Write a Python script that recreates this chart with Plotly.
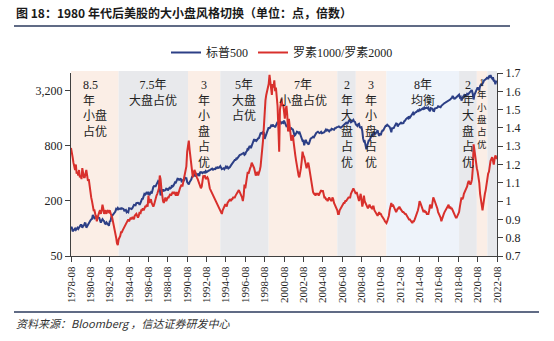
import math
import pandas as pd
import plotly.graph_objects as go

# ---------------------------------------------------------------- data
months = pd.date_range("1978-08-01", "2022-08-01", freq="MS")

# S&P 500, monthly close
spx = [
    103.3, 102.5, 93.2, 94.7, 96.1,
    99.9, 96.3, 101.6, 101.8, 99.1, 102.9, 103.8, 109.3, 109.3, 101.8, 106.2, 107.9,
    114.2, 113.7, 102.1, 106.3, 111.2, 114.2, 121.7, 122.4, 125.5, 127.5, 140.5, 135.8,
    129.6, 131.3, 136.0, 132.8, 132.6, 131.2, 130.9, 122.8, 116.2, 121.9, 126.4, 122.6,
    120.4, 113.1, 112.0, 116.4, 111.9, 109.6, 107.1, 119.5, 120.4, 133.7, 138.5, 140.6,
    145.3, 148.1, 153.0, 164.4, 162.4, 168.1, 162.6, 164.4, 166.1, 163.6, 166.4, 164.9,
    163.4, 157.1, 159.2, 160.1, 150.6, 153.2, 150.7, 166.7, 166.1, 166.1, 163.6, 167.2,
    179.6, 181.2, 180.7, 179.8, 189.6, 191.9, 190.9, 188.6, 182.1, 189.8, 202.2, 211.3,
    211.8, 226.9, 238.9, 235.5, 247.4, 250.8, 236.1, 252.9, 231.3, 244.0, 249.2, 242.2,
    274.1, 284.2, 291.7, 288.4, 290.1, 304.0, 318.7, 329.8, 321.8, 251.8, 230.3, 247.1,
    257.1, 267.8, 258.9, 261.3, 262.2, 273.5, 272.0, 261.5, 271.9, 279.0, 273.7, 277.7,
    297.5, 288.9, 294.9, 309.6, 320.5, 318.0, 346.1, 351.5, 349.2, 340.4, 346.0, 353.4,
    329.1, 331.9, 339.9, 330.8, 361.2, 358.0, 356.2, 322.6, 306.1, 304.0, 322.2, 330.2,
    343.9, 367.1, 375.2, 375.3, 389.8, 371.2, 387.8, 395.4, 387.9, 392.5, 375.2, 417.1,
    408.8, 412.7, 403.7, 415.0, 415.4, 408.1, 424.2, 414.0, 417.8, 418.7, 431.4, 435.7,
    438.8, 443.4, 451.7, 440.2, 450.2, 450.5, 448.1, 463.6, 458.9, 467.8, 461.8, 466.5,
    481.6, 467.1, 445.8, 450.9, 456.5, 444.3, 458.3, 475.5, 462.7, 472.4, 453.7, 459.3,
    470.4, 487.4, 500.7, 514.7, 533.4, 544.8, 562.1, 561.9, 584.4, 581.5, 605.4, 615.9,
    636.0, 640.4, 645.5, 654.2, 669.1, 670.6, 640.0, 652.0, 687.3, 705.3, 757.0, 740.7,
    786.2, 790.8, 757.1, 801.3, 848.3, 885.1, 954.3, 899.5, 947.3, 914.6, 955.4, 970.4,
    980.3, 1049.3, 1101.8, 1111.8, 1090.8, 1133.8, 1120.7, 957.3, 1017.0, 1098.7, 1163.6, 1229.2,
    1279.6, 1238.3, 1286.4, 1335.2, 1301.8, 1372.7, 1328.7, 1320.4, 1282.7, 1362.9, 1388.9, 1469.3,
    1394.5, 1366.4, 1498.6, 1452.4, 1420.6, 1454.6, 1430.8, 1517.7, 1436.5, 1429.4, 1315.0, 1320.3,
    1366.0, 1239.9, 1160.3, 1249.5, 1255.8, 1224.4, 1211.2, 1133.6, 1040.9, 1059.8, 1139.5, 1148.1,
    1130.2, 1106.7, 1147.4, 1076.9, 1067.1, 989.8, 911.6, 916.1, 815.3, 885.8, 936.3, 879.8,
    855.7, 841.2, 848.2, 916.9, 963.6, 974.5, 990.3, 1008.0, 996.0, 1050.7, 1058.2, 1111.9,
    1131.1, 1144.9, 1126.2, 1107.3, 1120.7, 1140.8, 1101.7, 1104.2, 1114.6, 1130.2, 1173.8, 1211.9,
    1181.3, 1203.6, 1180.6, 1156.9, 1191.5, 1191.3, 1234.2, 1220.3, 1228.8, 1207.0, 1249.5, 1248.3,
    1280.1, 1280.7, 1294.9, 1310.6, 1270.1, 1270.2, 1276.7, 1303.8, 1335.9, 1377.9, 1400.6, 1418.3,
    1438.2, 1406.8, 1420.9, 1482.4, 1530.6, 1503.4, 1455.3, 1474.0, 1526.8, 1549.4, 1481.1, 1468.4,
    1378.6, 1330.6, 1322.7, 1385.6, 1400.4, 1280.0, 1267.4, 1282.8, 1166.4, 968.8, 896.2, 903.3,
    825.9, 735.1, 797.9, 872.8, 919.1, 919.3, 987.5, 1020.6, 1057.1, 1036.2, 1095.6, 1115.1,
    1073.9, 1104.5, 1169.4, 1186.7, 1089.4, 1030.7, 1101.6, 1049.3, 1141.2, 1183.3, 1180.6, 1257.6,
    1286.1, 1327.2, 1325.8, 1363.6, 1345.2, 1320.6, 1292.3, 1218.9, 1131.4, 1253.3, 1247.0, 1257.6,
    1312.4, 1365.7, 1408.5, 1397.9, 1310.3, 1362.2, 1379.3, 1406.6, 1440.7, 1412.2, 1416.2, 1426.2,
    1498.1, 1514.7, 1569.2, 1597.6, 1630.7, 1606.3, 1685.7, 1633.0, 1681.6, 1756.5, 1805.8, 1848.4,
    1782.6, 1859.5, 1872.3, 1884.0, 1923.6, 1960.2, 1930.7, 2003.4, 1972.3, 2018.1, 2067.6, 2058.9,
    1995.0, 2104.5, 2067.9, 2085.5, 2107.4, 2063.1, 2103.8, 1972.2, 1920.0, 2079.4, 2080.4, 2043.9,
    1940.2, 1932.2, 2059.7, 2065.3, 2097.0, 2098.9, 2173.6, 2171.0, 2168.3, 2126.2, 2198.8, 2238.8,
    2278.9, 2363.6, 2362.7, 2384.2, 2411.8, 2423.4, 2470.3, 2471.7, 2519.4, 2575.3, 2647.6, 2673.6,
    2823.8, 2713.8, 2640.9, 2648.1, 2705.3, 2718.4, 2816.3, 2901.5, 2914.0, 2711.7, 2760.2, 2506.9,
    2704.1, 2784.5, 2834.4, 2945.8, 2752.1, 2941.8, 2980.4, 2926.5, 2976.7, 3037.6, 3141.0, 3230.8,
    3225.5, 2954.2, 2584.6, 2912.4, 3044.3, 3100.3, 3271.1, 3500.3, 3363.0, 3270.0, 3621.6, 3756.1,
    3714.2, 3811.2, 3972.9, 4181.2, 4204.1, 4297.5, 4395.3, 4522.7, 4307.5, 4605.4, 4567.0, 4766.2,
    4515.6, 4373.9, 4530.4, 4131.9, 4132.2, 3785.4, 4130.3, 3955.0,
]

# Russell 1000 / Russell 2000, monthly
r1000_r2000 = [
    1.29, 1.27, 1.24, 1.21, 1.19,
    1.17, 1.20, 1.15, 1.16, 1.14, 1.17, 1.13, 1.14, 1.12, 1.18, 1.15, 1.13,
    1.13, 1.16, 1.17, 1.14, 1.11, 1.12, 1.08, 1.04, 1.02, 1.00, 0.98, 0.95,
    0.95, 0.92, 0.90, 0.89, 0.91, 0.93, 0.94, 0.95, 0.93, 0.95, 0.98, 0.96,
    0.93, 0.95, 0.94, 0.93, 0.95, 0.94, 0.94, 0.95, 0.93, 0.92, 0.91, 0.89,
    0.87, 0.85, 0.82, 0.80, 0.77, 0.76, 0.79, 0.80, 0.81, 0.83, 0.83, 0.84,
    0.85, 0.86, 0.87, 0.87, 0.88, 0.89, 0.90, 0.89, 0.90, 0.91, 0.90, 0.91,
    0.91, 0.90, 0.92, 0.93, 0.93, 0.92, 0.91, 0.92, 0.94, 0.93, 0.95, 0.95,
    0.96, 0.95, 0.96, 0.97, 0.97, 0.98, 0.97, 1.03, 0.99, 1.00, 1.01, 0.99,
    0.98, 0.97, 0.98, 1.00, 1.02, 1.03, 1.04, 1.05, 1.07, 1.14, 1.12, 1.07,
    1.03, 1.00, 0.99, 1.01, 1.02, 1.00, 1.01, 1.02, 1.02, 1.03, 1.04, 1.03,
    1.04, 1.05, 1.04, 1.05, 1.04, 1.03, 1.05, 1.03, 1.04, 1.06, 1.07, 1.08,
    1.09, 1.08, 1.10, 1.12, 1.14, 1.15, 1.19, 1.27, 1.31, 1.33, 1.28, 1.24,
    1.18, 1.14, 1.13, 1.15, 1.17, 1.16, 1.14, 1.13, 1.12, 1.11, 1.10, 1.08,
    1.07, 1.08, 1.11, 1.14, 1.13, 1.14, 1.12, 1.13, 1.13, 1.12, 1.09, 1.07,
    1.06, 1.05, 1.04, 1.03, 1.02, 1.02, 1.01, 1.00, 0.99, 0.98, 0.97, 0.96,
    0.95, 0.94, 0.93, 0.95, 0.96, 0.97, 0.98, 0.98, 0.97, 0.99, 1.00, 1.00,
    1.01, 1.00, 1.01, 1.01, 1.02, 1.02, 1.02, 1.03, 1.04, 1.05, 1.05, 1.06,
    1.05, 1.04, 1.04, 1.02, 1.00, 1.03, 1.09, 1.07, 1.10, 1.13, 1.16, 1.15,
    1.16, 1.18, 1.19, 1.21, 1.20, 1.19, 1.18, 1.16, 1.14, 1.15, 1.16, 1.14,
    1.15, 1.17, 1.19, 1.23, 1.27, 1.33, 1.40, 1.52, 1.55, 1.58, 1.60, 1.62,
    1.64, 1.69, 1.66, 1.60, 1.58, 1.64, 1.62, 1.66, 1.60, 1.62, 1.58, 1.52,
    1.40, 1.27, 1.50, 1.55, 1.56, 1.52, 1.53, 1.49, 1.45, 1.50, 1.52, 1.47,
    1.38, 1.45, 1.40, 1.36, 1.33, 1.35, 1.36, 1.32, 1.27, 1.25, 1.22, 1.19,
    1.15, 1.14, 1.13, 1.15, 1.18, 1.22, 1.27, 1.25, 1.24, 1.22, 1.19, 1.18,
    1.20, 1.21, 1.19, 1.16, 1.13, 1.11, 1.08, 1.05, 1.04, 1.04, 1.03, 1.04,
    1.04, 1.04, 1.03, 1.04, 1.05, 1.06, 1.05, 1.06, 1.04, 1.02, 1.02, 1.01,
    1.01, 1.00, 1.01, 1.02, 1.01, 1.00, 1.00, 1.02, 1.01, 0.99, 0.98, 0.97,
    0.96, 0.95, 0.93, 0.93, 0.95, 0.96, 0.97, 0.98, 0.99, 0.99, 0.99, 1.00,
    1.00, 1.01, 1.01, 1.02, 1.02, 1.02, 1.04, 1.05, 1.06, 1.07, 1.06, 1.05,
    1.04, 1.05, 1.03, 1.02, 1.00, 1.02, 1.04, 1.01, 0.97, 0.99, 1.03, 1.00,
    0.99, 0.98, 0.97, 0.96, 0.97, 0.98, 0.97, 0.96, 0.96, 0.97, 0.97, 0.95,
    0.94, 0.94, 0.93, 0.92, 0.93, 0.94, 0.93, 0.93, 0.92, 0.91, 0.90, 0.90,
    0.89, 0.88, 0.88, 0.89, 0.90, 0.92, 0.95, 0.98, 0.99, 0.97, 0.98, 0.97,
    0.96, 0.95, 0.94, 0.95, 0.96, 0.96, 0.97, 0.96, 0.95, 0.95, 0.94, 0.94,
    0.93, 0.93, 0.93, 0.92, 0.91, 0.90, 0.90, 0.90, 0.89, 0.89, 0.88, 0.89,
    0.89, 0.90, 0.91, 0.93, 0.94, 0.95, 0.97, 1.00, 0.99, 0.98, 0.96, 0.95,
    0.94, 0.95, 0.94, 0.94, 0.93, 0.93, 0.93, 0.95, 0.98, 0.97, 0.96, 0.99,
    1.02, 1.01, 1.00, 0.99, 0.97, 0.96, 0.94, 0.93, 0.92, 0.91, 0.89, 0.90,
    0.91, 0.93, 0.94, 0.95, 0.96, 0.96, 0.97, 0.98, 0.96, 0.97, 0.96, 0.96,
    0.95, 0.94, 0.93, 0.92, 0.91, 0.91, 0.92, 0.93, 0.94, 0.97, 0.99, 1.02,
    1.01, 1.02, 1.04, 1.05, 1.06, 1.07, 1.08, 1.10, 1.11, 1.10, 1.09, 1.10,
    1.12, 1.18, 1.31, 1.28, 1.24, 1.20, 1.18, 1.16, 1.13, 1.10, 1.04, 1.00,
    0.97, 0.95, 0.98, 1.02, 1.04, 1.06, 1.10, 1.13, 1.15, 1.16, 1.20, 1.22,
    1.23, 1.24, 1.22, 1.20, 1.23, 1.25, 1.24, 1.23,
]

# style regimes: start month, end month, label, kind
regime_start = ["1978-08", "1983-07", "1990-09", "1994-01", "1999-01", "2006-02",
                "2008-01", "2011-03", "2018-09", "2020-07", "2021-08"]
regime_end = ["1983-07", "1990-09", "1994-01", "1999-01", "2006-02", "2008-01",
              "2011-03", "2018-09", "2020-07", "2021-08", "2022-08"]
regime_label = ["8.5<br>年<br>小盘<br>占优", "7.5年<br>大盘占优",
                "3<br>年<br>小<br>盘<br>占<br>优", "5年<br>大盘<br>占优",
                "7年<br>小盘占优", "2<br>年<br>大<br>盘<br>占<br>优",
                "3<br>年<br>小<br>盘<br>占<br>优", "8年<br>均衡",
                "2<br>年<br>大<br>盘<br>占<br>优", "1<br>年<br>小<br>盘<br>占<br>优", ""]
regime_kind = ["small", "large", "small", "large", "small", "large",
               "small", "balanced", "large", "small", "large"]

left_ticks = [50, 200, 800, 3200]
left_ticktext = ["50", "200", "800", "3,200"]
right_ticks = [0.7, 0.8, 0.9, 1.0, 1.1, 1.2, 1.3, 1.4, 1.5, 1.6, 1.7]
right_ticktext = ["0.7", "0.8", "0.9", "1", "1.1", "1.2", "1.3", "1.4", "1.5", "1.6", "1.7"]
x_ticks = pd.date_range("1978-08-01", "2022-08-01", freq="24MS")
x_ticktext = [d.strftime("%Y-%m") for d in x_ticks]

assert len(spx) == len(months) == len(r1000_r2000)

# ---------------------------------------------------------------- layout
W, H = 554, 341


def fx(p):
    return p / W


def fy(p):
    return 1 - p / H


NAVY = "#2c3f86"
RED = "#d8302c"
FILL = {"small": "#fbeee6", "large": "#e8e9ec", "balanced": "#eef3fa"}
SERIF = "Liberation Serif, Noto Sans CJK SC"
CJK = "Noto Sans CJK SC"

fig = go.Figure()
fig.add_trace(go.Scatter(x=months, y=spx, name="标普500", mode="lines",
                         line=dict(color=NAVY, width=2), yaxis="y"))
fig.add_trace(go.Scatter(x=months, y=r1000_r2000, name="罗素1000/罗素2000", mode="lines",
                         line=dict(color=RED, width=2), yaxis="y2"))

shapes = []
annotations = []
for s, e, lab, kind in zip(regime_start, regime_end, regime_label, regime_kind):
    s_d, e_d = pd.Timestamp(s + "-01"), pd.Timestamp(e + "-01")
    shapes.append(dict(type="rect", xref="x", yref="paper", x0=s_d, x1=e_d,
                       y0=fy(256), y1=fy(71), fillcolor=FILL[kind], line_width=0,
                       layer="below"))
    if lab:
        narrow = (e_d - s_d).days < 600
        annotations.append(dict(
            x=s_d + (e_d - s_d) / 2, xref="x", y=fy(76), yref="paper",
            xanchor="center", yanchor="top", text=lab, showarrow=False,
            align="left" if lab.startswith("8.5") else "center",
            font=dict(family=SERIF, size=9.5 if narrow else 12, color="#222")))

# title, rules and source note
shapes.append(dict(type="line", xref="paper", yref="paper", x0=fx(14), x1=fx(510),
                   y0=fy(26), y1=fy(26), line=dict(color="#2b3a5c", width=1.6)))
shapes.append(dict(type="line", xref="paper", yref="paper", x0=fx(14), x1=fx(539),
                   y0=fy(312), y1=fy(312), line=dict(color="#2b3a5c", width=1.6)))
annotations.append(dict(x=fx(14), y=fy(13), xref="paper", yref="paper", xanchor="left",
                        yanchor="middle", showarrow=False,
                        text="<b>图 18：1980 年代后美股的大小盘风格切换（单位：点，倍数）</b>",
                        font=dict(family=CJK, size=12, color="#1a1a1a")))
annotations.append(dict(x=fx(14), y=fy(323), xref="paper", yref="paper", xanchor="left",
                        yanchor="middle", showarrow=False,
                        text="<i>资料来源：Bloomberg ，信达证券研发中心</i>",
                        font=dict(family=CJK, size=11, color="#333")))

axis_common = dict(showgrid=False, zeroline=False, showline=True, linecolor="#404040",
                   linewidth=1, ticks="outside", ticklen=5, tickcolor="#404040",
                   tickfont=dict(family=SERIF, size=12, color="#222"))

fig.update_layout(
    width=W, height=H, margin=dict(l=0, r=0, t=0, b=0, autoexpand=False),
    paper_bgcolor="white", plot_bgcolor="rgba(0,0,0,0)",
    shapes=shapes, annotations=annotations,
    xaxis=dict(domain=[fx(71), fx(497)], type="date",
               range=[months[0], months[-1]], tickvals=x_ticks, ticktext=x_ticktext,
               tickangle=-90, automargin=False,
               **{**axis_common, "tickfont": dict(family=SERIF, size=11, color="#222")}),
    yaxis=dict(domain=[fy(256), fy(73)], type="log",
               range=[math.log10(50), math.log10(5035)], tickvals=left_ticks,
               ticktext=left_ticktext, automargin=False, **axis_common),
    yaxis2=dict(domain=[fy(256), fy(73)], overlaying="y", side="right", anchor="x",
                range=[0.7, 1.7], tickvals=right_ticks, ticktext=right_ticktext,
                automargin=False, **axis_common),
    legend=dict(orientation="h", x=fx(166), y=fy(38), xanchor="left", yanchor="top",
                font=dict(family=SERIF, size=12, color="#222"), bgcolor="rgba(0,0,0,0)",
                itemwidth=30),
    showlegend=True,
)

fig.write_html("out.html")
